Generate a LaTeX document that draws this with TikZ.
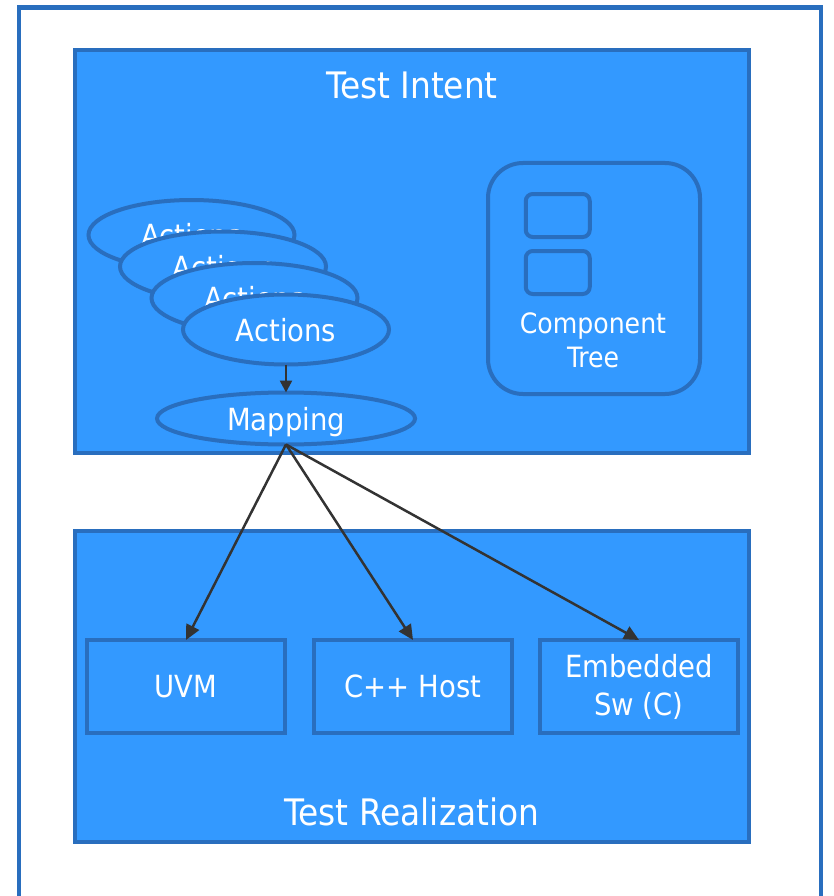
\documentclass[tikz,border=0pt]{standalone}
\usepackage{fontspec}
\setmainfont{DejaVu Sans Condensed}
\usetikzlibrary{shapes.geometric,arrows.meta}
\definecolor{fillb}{RGB}{51,153,255}
\definecolor{strokeb}{RGB}{41,110,190}
\definecolor{arrc}{RGB}{51,51,51}
\begin{document}
\begin{tikzpicture}[x=1pt,y=-1pt,
  bigbox/.style={draw=strokeb, fill=fillb, line width=4pt, inner sep=0pt, outer sep=0pt},
  ttl/.style={text=white, font=\fontsize{36.5}{40}\selectfont, inner sep=0pt, text depth=0pt},
  act/.style={ellipse, draw=strokeb, fill=fillb, line width=4pt, minimum width=206pt, minimum height=70pt, inner sep=0pt, outer sep=0pt, text=white, text depth=0pt, font=\fontsize{30.5}{35}\selectfont},
  smallbox/.style={draw=strokeb, fill=fillb, line width=4pt, minimum width=198pt, minimum height=93pt, inner sep=0pt, outer sep=0pt, text=white, align=center, font=\fontsize{30.5}{38}\selectfont},
  inbox/.style={draw=strokeb, line width=4pt, rounded corners=7pt, minimum width=64pt, minimum height=43pt, inner sep=0pt},
  conn/.style={draw=arrc, line width=2.5pt, -{Triangle[length=15pt,width=14pt]}}
]
\useasboundingbox (0,0) rectangle (833,896);
\draw[strokeb, line width=4.5pt] (19,900) -- (19,7.5) -- (821,7.5) -- (821,900);

% Test Intent
\node[bigbox, minimum width=674.5pt, minimum height=402.5pt] (intent) at (411.75,251.75) {};
\node[ttl] (intentlbl) at (412,85) {Test Intent};

% Actions stack
\node[act] (act1) at (191.5,235) {Actions};
\node[act] (act2) at (223,266.5) {Actions};
\node[act] (act3) at (254.5,298) {Actions};
\node[act] (act4) at (286,329.5) {Actions};
\node[act, minimum width=258pt, minimum height=52pt] (map) at (286,418.5) {Mapping};
\draw[conn, -{Triangle[length=12pt,width=12pt]}] (act4.south) -- (map.north);

% Component tree
\node[draw=strokeb, fill=fillb, line width=4pt, rounded corners=35pt, minimum width=212pt, minimum height=231pt, inner sep=0pt] (ctree) at (594,278.5) {};
\node[inbox] (cbox1) at (557.75,215.5) {};
\node[inbox] (cbox2) at (557.75,272.5) {};
\node[text=white, align=center, font=\fontsize{28}{34}\selectfont, inner sep=0pt] (ctlbl) at (593,340) {Component\\Tree};

% Test Realization
\node[bigbox, minimum width=674.5pt, minimum height=311pt] (real) at (411.75,686.5) {};
\node[ttl] (reallbl) at (412,812) {Test Realization};
\node[smallbox] (uvm) at (186,686.5) {UVM};
\node[smallbox] (cpp) at (413,686.5) {C++ Host};
\node[smallbox] (emb) at (639,686.5) {Embedded\\Sw (C)};

\draw[conn] (map.south) -- (uvm.north);
\draw[conn] (map.south) -- (cpp.north);
\draw[conn] (map.south) -- (emb.north);
\end{tikzpicture}
\end{document}
